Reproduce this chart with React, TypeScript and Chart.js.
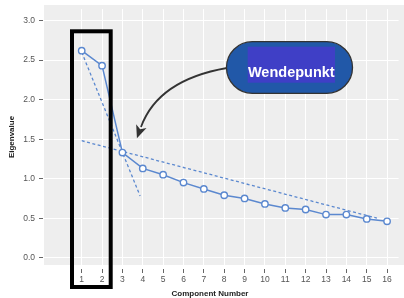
import React, { useEffect, useRef } from "react";
import { Chart, registerables } from "chart.js";

Chart.register(...registerables);

// ---- data ----
const components = [1, 2, 3, 4, 5, 6, 7, 8, 9, 10, 11, 12, 13, 14, 15, 16];
const eigenvalues = [2.62, 2.43, 1.33, 1.13, 1.05, 0.95, 0.87, 0.79, 0.75, 0.68, 0.63, 0.61, 0.545, 0.545, 0.49, 0.46];
const steepFitX = [1, 3.87];
const steepFitY = [2.6, 0.78];
const flatFitX = [1, 15.5];
const flatFitY = [1.48, 0.5];
const yTickValues = [0, 0.5, 1, 1.5, 2, 2.5, 3];
const xTitle = "Component Number";
const yTitle = "Eigenvalue";
const calloutText = "Wendepunkt";

const BLUE = "#5b88cf";
const FONT = "'Liberation Sans', Arial, Helvetica, sans-serif";

const decorPlugin = {
  id: "decor",
  beforeDraw(chart: any) {
    const ctx = chart.ctx;
    ctx.save();
    ctx.fillStyle = "#eeeeee";
    ctx.fillRect(44, 5, 404 - 44, 265 - 5);
    ctx.restore();
  },
  afterDraw(chart: any) {
    const ctx = chart.ctx;
    ctx.save();
    // axis titles
    ctx.fillStyle = "#222";
    ctx.font = `bold 8px ${FONT}`;
    ctx.textAlign = "center";
    ctx.textBaseline = "middle";
    ctx.fillText(xTitle, 210, 294);
    ctx.save();
    ctx.translate(12, 137);
    ctx.rotate(-Math.PI / 2);
    ctx.fillText(yTitle, 0, 0);
    ctx.restore();

    // black frame around components 1-2
    ctx.strokeStyle = "#000";
    ctx.lineWidth = 4;
    ctx.strokeRect(72, 31.3, 38.7, 255.7);

    // curved arrow
    ctx.strokeStyle = "#333";
    ctx.fillStyle = "#333";
    ctx.lineWidth = 1.8;
    const p0 = { x: 227, y: 68 };
    const c = { x: 158, y: 80 };
    const p2 = { x: 141, y: 127 };
    ctx.beginPath();
    ctx.moveTo(p0.x, p0.y);
    ctx.quadraticCurveTo(c.x, c.y, p2.x, p2.y);
    ctx.stroke();
    const dx = p2.x - c.x, dy = p2.y - c.y;
    const len = Math.hypot(dx, dy);
    const ux = dx / len, uy = dy / len;
    const px = -uy, py = ux;
    const tip = { x: p2.x + ux * 12, y: p2.y + uy * 12 };
    ctx.beginPath();
    ctx.moveTo(tip.x, tip.y);
    ctx.lineTo(p2.x - ux * 1 + px * 5.5, p2.y - uy * 1 + py * 5.5);
    ctx.lineTo(p2.x + ux * 2.5, p2.y + uy * 2.5);
    ctx.lineTo(p2.x - ux * 1 - px * 5.5, p2.y - uy * 1 - py * 5.5);
    ctx.closePath();
    ctx.fill();

    // callout pill
    const bx = 226.5, by = 41.7, bw = 126, bh = 51.6;
    ctx.beginPath();
    (ctx as any).roundRect(bx, by, bw, bh, bh / 2);
    ctx.fillStyle = "#2158a8";
    ctx.fill();
    ctx.strokeStyle = "#333";
    ctx.lineWidth = 1.3;
    ctx.stroke();
    ctx.fillStyle = "#3f3fc6";
    ctx.fillRect(247.7, 46.7, 87.3, 36);
    ctx.fillStyle = "#ffffff";
    ctx.font = `bold 14.5px ${FONT}`;
    ctx.textAlign = "center";
    ctx.textBaseline = "alphabetic";
    ctx.fillText(calloutText, 291.3, 76.7);
    ctx.restore();
  },
};

export default function App() {
  const ref = useRef<HTMLCanvasElement | null>(null);

  useEffect(() => {
    if (!ref.current) return;
    const chart = new Chart(ref.current, {
      type: "line",
      data: {
        datasets: [
          {
            label: "Eigenvalue",
            data: components.map((x, i) => ({ x, y: eigenvalues[i] })),
            borderColor: BLUE,
            borderWidth: 1.5,
            pointRadius: 3.2,
            pointBackgroundColor: "#ffffff",
            pointBorderColor: BLUE,
            pointBorderWidth: 1.4,
            tension: 0,
          },
          {
            label: "steep",
            data: steepFitX.map((x, i) => ({ x, y: steepFitY[i] })),
            borderColor: BLUE,
            borderWidth: 1.3,
            borderDash: [3, 2.5],
            pointRadius: 0,
          },
          {
            label: "flat",
            data: flatFitX.map((x, i) => ({ x, y: flatFitY[i] })),
            borderColor: BLUE,
            borderWidth: 1.3,
            borderDash: [3, 2.5],
            pointRadius: 0,
          },
        ],
      },
      options: {
        animation: false,
        responsive: false,
        devicePixelRatio: 1,
        layout: { padding: { top: 5, right: 0, left: 0, bottom: 0 } },
        plugins: {
          legend: { display: false },
          tooltip: { enabled: false },
        },
        scales: {
          x: {
            type: "linear",
            min: -0.901,
            max: 16.566,
            afterBuildTicks: (s: any) => {
              s.ticks = components.map((v) => ({ value: v }));
            },
            afterFit: (s: any) => {
              s.height = 29;
            },
            border: { display: false },
            grid: { color: "#ffffff", lineWidth: 1, tickColor: "#666", tickLength: 4 },
            ticks: {
              autoSkip: false,
              maxRotation: 0,
              padding: 2,
              color: "#555",
              font: { family: FONT, size: 8.5 },
              callback: (v: any) => String(v),
            },
          },
          y: {
            min: -0.1433,
            max: 3.146,
            afterBuildTicks: (s: any) => {
              s.ticks = yTickValues.map((v) => ({ value: v }));
            },
            afterFit: (s: any) => {
              s.width = 43;
            },
            border: { display: false },
            grid: { color: "#ffffff", lineWidth: 1, tickColor: "#666", tickLength: 4 },
            ticks: {
              padding: 4,
              color: "#555",
              font: { family: FONT, size: 8.5 },
              callback: (v: any) => Number(v).toFixed(1),
            },
          },
        },
      },
      plugins: [decorPlugin],
    } as any);
    return () => chart.destroy();
  }, []);

  return (
    <div style={{ position: "fixed", left: 0, top: 0, width: 404, height: 298, background: "#fff" }}>
      <canvas ref={ref} width={404} height={298} style={{ display: "block", width: 404, height: 298 }} />
    </div>
  );
}
